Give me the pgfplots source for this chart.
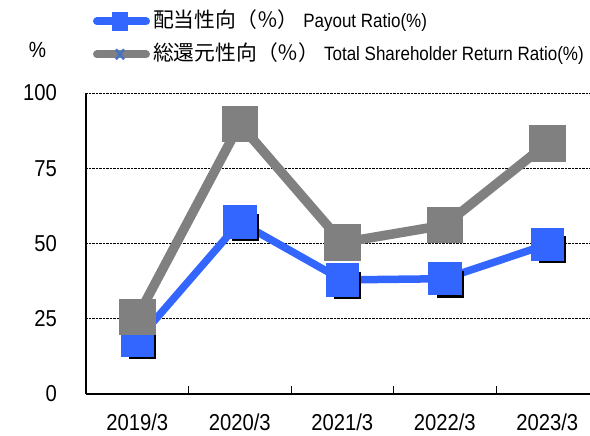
\documentclass[border=0pt]{standalone}
\usepackage{fontspec}
\setmainfont{Liberation Sans}[FakeStretch=0.88]
\newfontfamily\cjk{Noto Sans CJK JP}
\usepackage{pgfplots}
\pgfplotsset{compat=1.18}
\definecolor{pblue}{RGB}{51,102,255}
\definecolor{pgray}{RGB}{128,128,128}
\definecolor{xblue}{RGB}{68,114,196}
\newcommand{\jp}[1]{{\cjk\fontsize{20.8}{21}\selectfont #1}}
\begin{document}
\begin{tikzpicture}
\path[use as bounding box] (0pt,0pt) rectangle (590pt,436pt);
\begin{axis}[
  at={(86pt,42pt)}, anchor=south west,
  width=504pt, height=301pt, scale only axis,
  xmin=-0.5, xmax=4.417, ymin=0, ymax=100,
  axis lines=left,
  axis line style={-, black, line width=1.3pt},
  tick align=inside,
  ytick={0,25,50,75,100},
  yticklabels={0,25,50,75,100},
  ymajorgrids,
  grid style={black, densely dotted, line width=0.7pt},
  major tick length=0pt,
  xtick={0,1,2,3,4},
  xticklabels={2019/3,2020/3,2021/3,2022/3,2023/3},
  extra x ticks={0.5,1.5,2.5,3.5},
  extra x tick labels={},
  extra x tick style={major tick length=8pt, tick style={black, line width=0.8pt}},
  xticklabel style={font=\fontsize{23}{24}\selectfont, inner sep=0pt, anchor=north, yshift=-20pt},
  yticklabel style={font=\fontsize{23}{24}\selectfont, inner sep=0pt, anchor=east, xshift=-29pt},
  ylabel={\%},
  ylabel style={rotate=-90, at={(axis description cs:-0.0962,1.143)}, anchor=center, font=\fontsize{22}{22}\selectfont, inner sep=0pt},
  legend cell align=left,
  legend style={at={(axis description cs:0.0139,1.273)}, anchor=north west,
    draw=none, fill=none, inner sep=0pt, outer sep=0pt, row sep=12pt, column sep=3pt,
    font=\fontsize{19.3}{20}\selectfont,
    nodes={inner sep=0pt, text height=17pt, text depth=4pt}},
]
% shadow of blue markers
\addplot[forget plot, draw=none, mark=square*, mark size=13pt,
  mark options={fill=black, draw=none, xshift=5pt, yshift=-5pt}]
  coordinates {(0,17.8) (1,57.1) (2,37.9) (3,38.3) (4,49.7)};
\addplot[pblue, line width=7.5pt, mark=square*, mark size=13pt,
  mark options={fill=pblue, draw=none},
  legend image code/.code={
    \draw[pblue, line width=8pt, line cap=round] (4pt,0pt) -- (53pt,0pt);
    \fill[pblue] (22.5pt,-5.5pt) rectangle (31.5pt,5.5pt);}]
  coordinates {(0,17.8) (1,57.1) (2,37.9) (3,38.3) (4,49.7)};
\addlegendentry{\jp{配当性向（％）} Payout Ratio(\%)}
\addplot[pgray, line width=9.5pt, mark=square*, mark size=13.5pt,
  mark options={fill=pgray, draw=none},
  legend image code/.code={
    \draw[pgray, line width=8pt, line cap=round] (4pt,0pt) -- (53pt,0pt);
    \draw[xblue, line width=2.5pt] (23pt,-5pt) -- (31pt,5pt) (23pt,5pt) -- (31pt,-5pt);}]
  coordinates {(0,25.6) (1,89.7) (2,50.3) (3,56.1) (4,83.3)};
\addlegendentry{\jp{総還元性向（％）} Total Shareholder Return Ratio(\%)}
\end{axis}
\end{tikzpicture}
\end{document}
